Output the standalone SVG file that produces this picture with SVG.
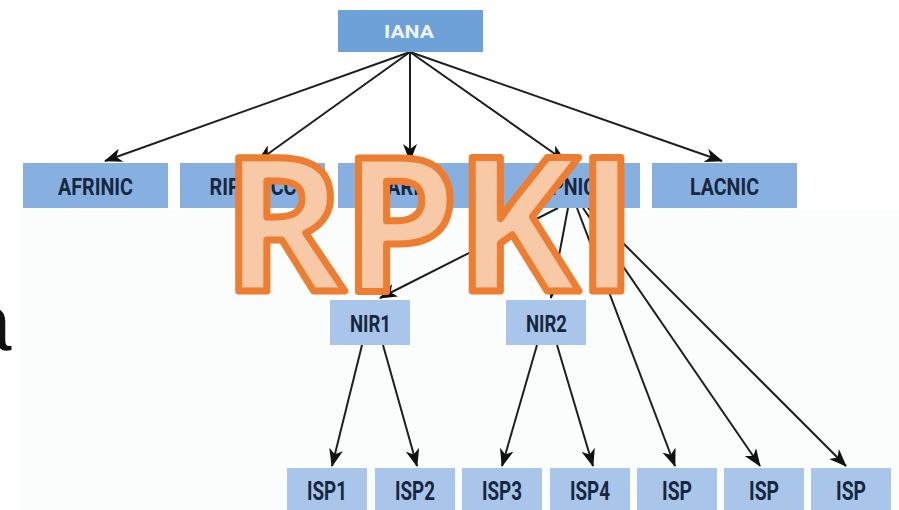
<svg xmlns="http://www.w3.org/2000/svg" width="899" height="510" viewBox="0 0 899 510">
<style>
.lbl{font-family:"Liberation Sans Narrow","Roboto","Liberation Sans",sans-serif;font-weight:bold;fill:#16273f;text-anchor:middle;}
.rir{fill:#87b0e0;}
.low{fill:#a9c5ea;}
.edge{stroke:#1e1e1e;stroke-width:2;fill:none;marker-end:url(#ah);}
</style>
<defs>
<marker id="ah" markerUnits="userSpaceOnUse" markerWidth="19" markerHeight="14" refX="17" refY="7" orient="auto">
<path d="M0,0 L18,7 L0,14 L5,7 z" fill="#111"/>
</marker>
</defs>
<rect x="0" y="0" width="899" height="510" fill="#ffffff"/>
<rect x="19" y="210" width="880" height="300" fill="#fbfdfd"/>
<text x="-33" y="350" font-family="Liberation Sans, Arial, sans-serif" font-size="80" fill="#111">a</text>

<g id="connectors">
<line class="edge" x1="410" y1="52" x2="105" y2="161"/>
<line class="edge" x1="410" y1="52" x2="258" y2="161"/>
<line class="edge" x1="410" y1="52" x2="410" y2="161"/>
<line class="edge" x1="410" y1="52" x2="565" y2="161"/>
<line class="edge" x1="410" y1="52" x2="722" y2="161"/>
<line class="edge" x1="558" y1="208" x2="380" y2="298"/>
<line class="edge" x1="568" y1="208" x2="551" y2="298"/>
<line class="edge" x1="577" y1="208" x2="675" y2="466"/>
<line class="edge" x1="583" y1="208" x2="760" y2="466"/>
<line class="edge" x1="588" y1="208" x2="846" y2="466"/>
<line class="edge" x1="362" y1="345" x2="332" y2="466"/>
<line class="edge" x1="383" y1="345" x2="417" y2="466"/>
<line class="edge" x1="537" y1="345" x2="502" y2="466"/>
<line class="edge" x1="557" y1="345" x2="593" y2="466"/>
</g>

<g id="iana"><rect x="338" y="10" width="145" height="42" fill="#6ea1d7"/><text class="lbl" x="409" y="38" font-size="18" textLength="50" lengthAdjust="spacingAndGlyphs" style="fill:#eef4fb">IANA</text></g>

<g id="afrinic"><rect class="rir" x="23" y="163" width="145" height="45"/><text class="lbl" x="95.5" y="195" font-size="24" textLength="75" lengthAdjust="spacingAndGlyphs">AFRINIC</text></g>
<g id="ripencc"><rect class="rir" x="180" y="163" width="145" height="45"/><text class="lbl" x="253" y="195" font-size="24" textLength="87" lengthAdjust="spacingAndGlyphs">RIPE NCC</text></g>
<g id="arin"><rect class="rir" x="338" y="163" width="145" height="45"/><text class="lbl" x="410" y="195" font-size="24" textLength="46" lengthAdjust="spacingAndGlyphs">ARIN</text></g>
<g id="apnic"><rect class="rir" x="495" y="163" width="145" height="45"/><text class="lbl" x="567" y="195" font-size="24" textLength="58" lengthAdjust="spacingAndGlyphs">APNIC</text></g>
<g id="lacnic"><rect class="rir" x="652" y="163" width="145" height="45"/><text class="lbl" x="724.5" y="195" font-size="24" textLength="69" lengthAdjust="spacingAndGlyphs">LACNIC</text></g>

<g id="nir1"><rect class="low" x="330" y="300" width="80" height="45"/><text class="lbl" x="370.5" y="332" font-size="24" textLength="41" lengthAdjust="spacingAndGlyphs">NIR1</text></g>
<g id="nir2"><rect class="low" x="506" y="300" width="80" height="45"/><text class="lbl" x="546.5" y="332" font-size="24" textLength="41" lengthAdjust="spacingAndGlyphs">NIR2</text></g>

<g id="isp1"><rect class="low" x="287" y="468" width="80" height="44"/><text class="lbl" x="327" y="500" font-size="25" textLength="40" lengthAdjust="spacingAndGlyphs">ISP1</text></g>
<g id="isp2"><rect class="low" x="375" y="468" width="80" height="44"/><text class="lbl" x="415" y="500" font-size="25" textLength="40" lengthAdjust="spacingAndGlyphs">ISP2</text></g>
<g id="isp3"><rect class="low" x="462" y="468" width="80" height="44"/><text class="lbl" x="502" y="500" font-size="25" textLength="40" lengthAdjust="spacingAndGlyphs">ISP3</text></g>
<g id="isp4"><rect class="low" x="550" y="468" width="80" height="44"/><text class="lbl" x="590" y="500" font-size="25" textLength="40" lengthAdjust="spacingAndGlyphs">ISP4</text></g>
<g id="isp5"><rect class="low" x="637" y="468" width="80" height="44"/><text class="lbl" x="677" y="500" font-size="25" textLength="30" lengthAdjust="spacingAndGlyphs">ISP</text></g>
<g id="isp6"><rect class="low" x="724" y="468" width="80" height="44"/><text class="lbl" x="764" y="500" font-size="25" textLength="30" lengthAdjust="spacingAndGlyphs">ISP</text></g>
<g id="isp7"><rect class="low" x="811" y="468" width="80" height="44"/><text class="lbl" x="851" y="500" font-size="25" textLength="30" lengthAdjust="spacingAndGlyphs">ISP</text></g>

<text x="222" y="291" font-family="'Open Sans', 'Liberation Sans', sans-serif" font-weight="700" font-size="186" letter-spacing="-3" fill="#f8c9a6" stroke="#ed7d31" stroke-width="7" stroke-linejoin="round">RPKI</text>
</svg>
